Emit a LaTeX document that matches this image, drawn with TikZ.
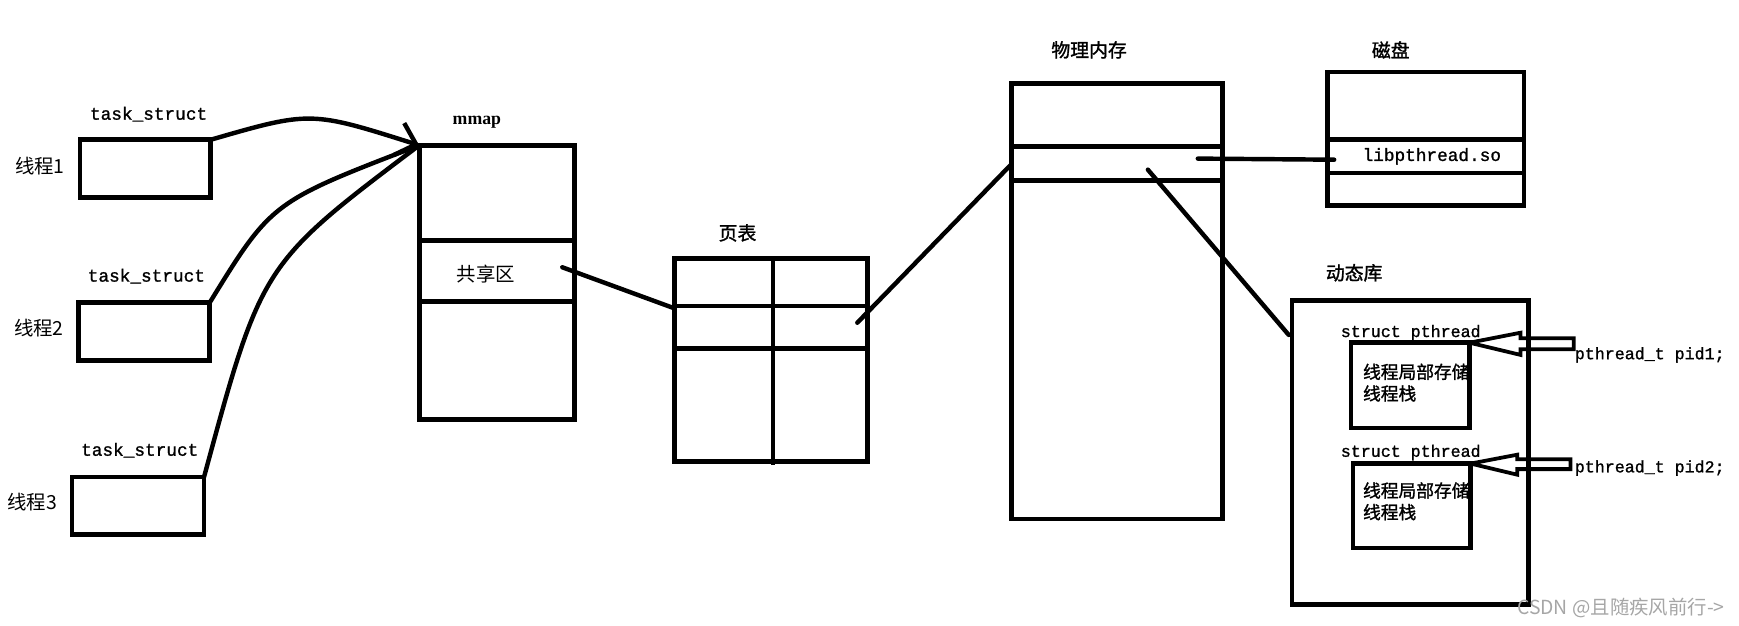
\documentclass[tikz,border=0pt]{standalone}
\usepackage{fontspec}
\setmainfont{Liberation Serif}
\setmonofont[FakeBold=1.2]{Liberation Mono}
\newfontfamily\cjk{Noto Sans CJK SC}
\newfontfamily\cjkb[FakeBold=1.4]{Noto Sans CJK SC}
\usetikzlibrary{arrows.meta,calc}

\begin{document}
\begin{tikzpicture}[x=1pt,y=-1pt,
  every node/.style={inner sep=0pt, outer sep=0pt},
  box/.style={draw, line width=4.2pt, inner sep=0pt},
  divider/.style={line width=4.2pt},
  conn/.style={line width=4pt, line cap=round},
  hollowarrow/.style={draw, line width=3.4pt, line join=miter},
  thr/.style={font=\cjk\fontsize{17.5}{17.5}\selectfont},
  ttl/.style={font=\cjkb\fontsize{17}{17}\selectfont},
  innertext/.style={font=\cjkb\fontsize{16}{19.5}\selectfont, align=left, anchor=west},
  mono/.style={font=\ttfamily\fontsize{16}{16}\selectfont},
  monos/.style={font=\ttfamily\fontsize{15}{15}\selectfont},
  wmark/.style={font=\cjk\fontsize{17.5}{17.5}\selectfont, text=black!35}
]
\useasboundingbox (0,0) rectangle (1568,564);

% threads
\node[thr] (l1) at (36,150) {线程1};
\node[thr] (l2) at (35,296) {线程2};
\node[thr] (l3) at (29,453) {线程3};
\node[mono] (t1) at (134,103) {task\_struct};
\node[mono] (t2) at (132,249) {task\_struct};
\node[mono] (t3) at (126,406) {task\_struct};
\node[box, minimum width=118pt, minimum height=52pt] (b1) at (131,152) {};
\node[box, minimum width=118pt, minimum height=52pt] (b2) at (130,299) {};
\node[box, minimum width=119pt, minimum height=52pt] (b3) at (124.5,456) {};

% mmap
\node[font=\rmfamily\bfseries\fontsize{16}{16}\selectfont] (mmapl) at (430,110) {mmap};
\node[box, minimum width=140pt, minimum height=247pt] (mm) at (448,254.5) {};
\draw[divider] (mm.west |- 0,217) -- (mm.east |- 0,217);
\draw[divider] (mm.west |- 0,272) -- (mm.east |- 0,272);
\node[thr] (shr) at (438,247) {共享区};
\coordinate (shrend) at (507,241);

% page table
\node[ttl] (ptl) at (665,210) {页表};
\node[box, minimum width=174pt, minimum height=183pt] (pt) at (695,324.5) {};
\draw[divider] (pt.west |- 0,276) -- (pt.east |- 0,276);
\draw[divider] (pt.west |- 0,314) -- (pt.east |- 0,314);
\draw[divider] (pt.north -| 697,0) -- ($(pt.south -| 697,0)+(0,3)$);
\coordinate (ptin) at (608,278);
\coordinate (ptout) at (773,291);

% physical memory
\node[ttl] (phl) at (982,45) {物理内存};
\node[box, minimum width=190pt, minimum height=393pt] (ph) at (1007,271.5) {};
\draw[divider] (ph.west |- 0,132) -- (ph.east |- 0,132);
\draw[divider] (ph.west |- 0,163) -- (ph.east |- 0,163);
\coordinate (phin) at (912,148);
\coordinate (phdisk) at (1080,143);
\coordinate (phlib) at (1035,153);

% disk
\node[ttl] (dkl) at (1254,45) {磁盘};
\node[box, minimum width=177pt, minimum height=120pt] (dk) at (1285.5,125) {};
\draw[divider] (dk.west |- 0,126) -- (dk.east |- 0,126);
\draw[divider] (dk.west |- 0,156) -- (dk.east |- 0,156);
\node[mono] (lib) at (1291,141) {libpthread.so};
\coordinate (dkin) at (1203,144);

% dynamic library
\node[ttl] (dyl) at (1221,246) {动态库};
\node[box, minimum width=213pt, minimum height=274pt] (dy) at (1271.5,408) {};
\coordinate (dyin) at (1162,302);
\node[monos] (sp1) at (1272,300) {struct pthread};
\node[monos] (sp2) at (1272,408) {struct pthread};
\node[innertext] (tx1) at (1229,345) {线程局部存储\\线程栈};
\node[innertext] (tx2) at (1229,452) {线程局部存储\\线程栈};
\node[box, minimum width=107pt, minimum height=77pt] (in1) at (1271.5,347.5) {};
\node[box, minimum width=106pt, minimum height=76pt] (in2) at (1273,456) {};
\node[monos, anchor=west] (pid1) at (1420,320) {pthread\_t pid1;};
\node[monos, anchor=west] (pid2) at (1420,422) {pthread\_t pid2;};

% connectors
\draw[conn, -{Straight Barb[length=16pt, width=30pt, line width=4pt]}] (b1.north east) .. controls (280,100) .. (mm.north west);
\draw[conn] (b2.north east) .. controls (245,182) .. (mm.north west);
\draw[conn] (b3.north east) .. controls (236,238) .. (mm.north west);
\draw[conn] (shrend) -- (ptin);
\draw[conn] (ptout) -- (phin);
\draw[conn] (phdisk) -- (dkin);
\draw[conn] (phlib) -- (dyin);

% hollow arrows
\draw[hollowarrow] (in1.north east) -- ++(46,-9) -- ++(0,5)
  -- ($(pid1.west |- in1.north east)+(-1,-4)$) -- ++(0,10)
  -- ($(in1.north east)+(46,6)$) -- ++(0,5) -- cycle;
\draw[hollowarrow] (in2.north east) -- ++(42,-8) -- ++(0,4)
  -- ($(pid2.west |- in2.north east)+(-4,-4)$) -- ++(0,9)
  -- ($(in2.north east)+(42,5)$) -- ++(0,5) -- cycle;

% watermark
\node[wmark, anchor=east] (wm) at (1555,548) {CSDN @且随疾风前行->};
\end{tikzpicture}
\end{document}
